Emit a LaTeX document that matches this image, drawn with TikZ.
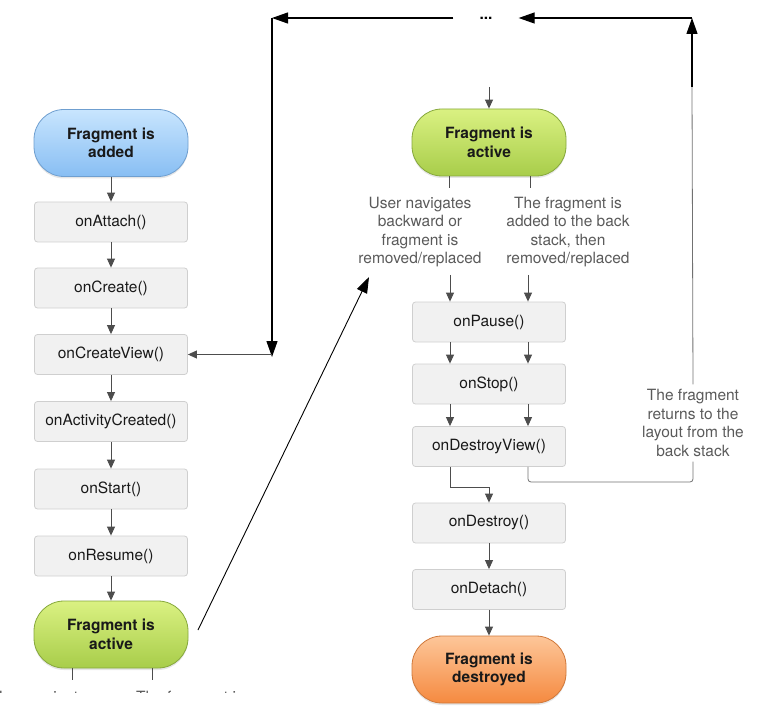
\documentclass[tikz,border=0pt]{standalone}
\usepackage{fontspec}
\setmainfont{TeX Gyre Heros}
\usetikzlibrary{arrows.meta,calc,shadows}
\definecolor{boxfill}{HTML}{F1F1F1}
\definecolor{boxborder}{HTML}{CFCFCF}
\definecolor{flowgray}{HTML}{4D4D4D}
\definecolor{notegray}{HTML}{5A5A5A}
\definecolor{bluetop}{HTML}{C8E5FE}
\definecolor{bluebot}{HTML}{88BEF3}
\definecolor{bluebd}{HTML}{6F9FD0}
\definecolor{greentop}{HTML}{DAF182}
\definecolor{greenbot}{HTML}{A8CD4A}
\definecolor{greenbd}{HTML}{86A83C}
\definecolor{orangetop}{HTML}{FDC699}
\definecolor{orangebot}{HTML}{F58A40}
\definecolor{orangebd}{HTML}{D0783A}
\begin{document}
\begin{tikzpicture}[x=1pt,y=-1pt,
  font=\fontsize{15.5}{18.5}\selectfont,
  method/.style={draw=boxborder, fill=boxfill, rounded corners=3pt,
    minimum width=153pt, minimum height=40pt, inner sep=0pt, text=black!90, line width=0.8pt},
  pill/.style={rounded corners=30pt, minimum width=154pt, minimum height=67pt,
    font=\fontsize{15.5}{18.5}\selectfont\bfseries, align=center, text=black!90, line width=0.8pt,
    drop shadow={opacity=0.2, shadow xshift=0pt, shadow yshift=-2pt}},
  bluepill/.style={pill, draw=bluebd, top color=bluetop, bottom color=bluebot},
  greenpill/.style={pill, draw=greenbd, top color=greentop, bottom color=greenbot},
  orangepill/.style={pill, draw=orangebd, top color=orangetop, bottom color=orangebot},
  flow/.style={draw=flowgray, line width=0.9pt, -{Triangle[length=9pt,width=8pt]}},
  plainline/.style={draw=flowgray, line width=0.9pt},
  backline/.style={draw=flowgray!80, line width=0.8pt, rounded corners=3pt},
  loop/.style={draw=black, line width=1.2pt, -{Triangle[length=16pt,width=11pt]}},
  note/.style={text=notegray, align=center, inner sep=5pt,
    font=\fontsize{15.5}{18.5}\selectfont}
]
\useasboundingbox (0,0) rectangle (758,714);

% left column
\node[bluepill] (added) at (111,143) {Fragment is\\added};
\node[method] (attach) at (111,222) {onAttach()};
\node[method] (create) at (111,288) {onCreate()};
\node[method] (cview) at (111,354.5) {onCreateView()};
\node[method] (actc) at (111,421.5) {onActivityCreated()};
\node[method] (start) at (111,489) {onStart()};
\node[method] (resume) at (111,556) {onResume()};
\node[greenpill] (activeL) at (111,634.5) {Fragment is\\active};

\draw[flow] (added) -- (attach);
\draw[flow] (attach) -- (create);
\draw[flow] (create) -- (cview);
\draw[flow] (cview) -- (actc);
\draw[flow] (actc) -- (start);
\draw[flow] (start) -- (resume);
\draw[flow] (resume) -- (activeL);
\draw[plainline] ($(activeL.south)+(-39,0)$) -- ++(0,12);
\draw[plainline] ($(activeL.south)+(41,0)$) -- ++(0,12);
\begin{scope}
\clip (0,0) rectangle (758,692);
\node[note] (noteLA) at (43,726) {User navigates\\backward or\\fragment is\\removed/replaced};
\node[note] (noteLB) at (190,726) {The fragment is\\added to the back\\stack, then\\removed/replaced};
\end{scope}

% right column
\node[greenpill] (activeR) at (489,142.5) {Fragment is\\active};
\node[note] (noteA) at (420,232) {User navigates\\backward or\\fragment is\\removed/replaced};
\node[note] (noteB) at (568,232) {The fragment is\\added to the back\\stack, then\\removed/replaced};
\node[method] (pause) at (489,322) {onPause()};
\node[method] (stop) at (489,384) {onStop()};
\node[method] (dview) at (489,446.5) {onDestroyView()};
\node[method] (destroy) at (489,523) {onDestroy()};
\node[method] (detach) at (489,589.5) {onDetach()};
\node[orangepill] (destroyed) at (489,669.5) {Fragment is\\destroyed};
\node[note] (noteC) at (693,423) {The fragment\\returns to the\\layout from the\\back stack};

\coordinate (topin) at (489,87);
\draw[flow] (topin) -- (activeR);
\draw[plainline] ($(activeR.south)+(-40,0)$) -- ++(0,12);
\draw[plainline] ($(activeR.south)+(41,0)$) -- ++(0,12);
\coordinate (pA) at (450,275);
\coordinate (pB) at (528,275);
\draw[flow] (pA) -- (pA |- pause.north);
\draw[flow] (pB) -- (pB |- pause.north);
\draw[flow] (pA |- pause.south) -- (pA |- stop.north);
\draw[flow] (pB |- pause.south) -- (pB |- stop.north);
\draw[flow] (pA |- stop.south) -- (pA |- dview.north);
\draw[flow] (pB |- stop.south) -- (pB |- dview.north);
\coordinate (dvA) at (450,487);
\draw[flow] (pA |- dview.south) -- (dvA) -- (dvA -| destroy.north) -- (destroy.north);
\draw[flow] (destroy) -- (detach);
\draw[flow] (detach) -- (destroyed);
\coordinate (dvB) at (528,482);
\draw[backline] (pB |- dview.south) -- (dvB) -- (dvB -| noteC.south) -- (noteC.south);

% loop back arrows
\coordinate (trb) at (692,87);
\coordinate (tr) at (692,18);
\coordinate (tl) at (272,18);
\coordinate (ml) at (272,357);
\node[inner xsep=26pt, inner ysep=0pt, font=\fontsize{15.5}{18.5}\selectfont\bfseries] (dots) at (486,18) {...};
\draw[draw=flowgray!80, line width=0.8pt] (noteC.north) -- (trb);
\draw[loop] (trb) -- (tr);
\draw[loop] (tr) -- (dots.east);
\draw[loop] (dots.west) -- (tl);
\draw[loop] (tl) -- (ml);
\draw[flow] (ml |- cview.east) -- (cview.east);

% diagonal from left active to right notes
\coordinate (diagS) at (198,630);
\coordinate (diagE) at (369,277);
\draw[draw=black, line width=0.9pt, -{Triangle[length=16pt,width=11pt]}] (diagS) -- (diagE);
\end{tikzpicture}
\end{document}
